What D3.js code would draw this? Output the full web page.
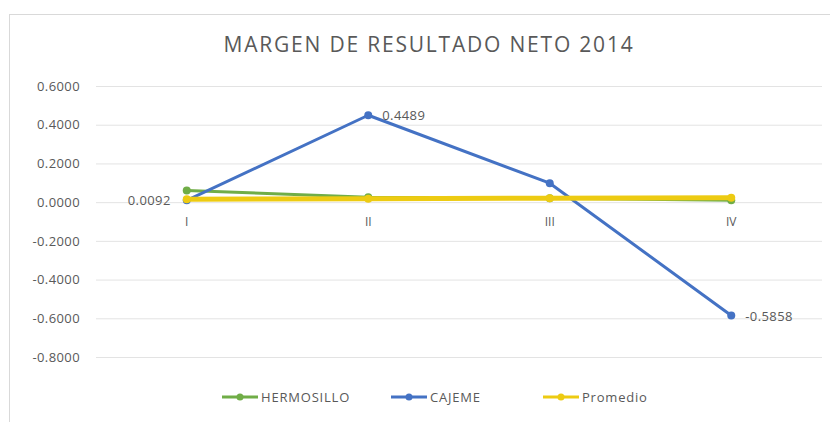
<!DOCTYPE html>
<html>
<head>
<meta charset="utf-8">
<script src="https://cdn.jsdelivr.net/npm/d3@7"></script>
<style>
  body { margin: 0; background: #fff; }
  text { font-family: "Open Sans", "Noto Sans", sans-serif; fill: #595959; }
</style>
</head>
<body>
<svg id="chart"></svg>
<script>
const WIDTH = 830;
const HEIGHT = 422;

// Datos.
const TRIMESTRES = ["I", "II", "III", "IV"];
const HERMOSILLO = [0.0600, 0.0250, 0.0200, 0.0100];
const CAJEME = [0.0092, 0.4489, 0.0980, -0.5858];
const PROMEDIO = [0.0150, 0.0180, 0.0200, 0.0230];
const Y_TICKS = [0.6, 0.4, 0.2, 0, -0.2, -0.4, -0.6, -0.8];
const ETIQUETAS = [
  { serie: "CAJEME", idx: 0, texto: "0.0092", lado: "left" },
  { serie: "CAJEME", idx: 1, texto: "0.4489", lado: "right" },
  { serie: "CAJEME", idx: 3, texto: "-0.5858", lado: "right" }
];

const SERIES = [
  { nombre: "HERMOSILLO", valores: HERMOSILLO, color: "#70AD47", ancho: 3 },
  { nombre: "CAJEME", valores: CAJEME, color: "#4472C4", ancho: 3 },
  { nombre: "Promedio", valores: PROMEDIO, color: "#EDCB12", ancho: 5 }
];

const MARGIN = { top: 86, left: 96, right: 8, bottom: 65 };

const svg = d3.select("svg#chart")
  .attr("width", WIDTH)
  .attr("height", HEIGHT);

// Borde del gráfico.
svg.append("rect")
  .attr("x", 9.5).attr("y", 14.5)
  .attr("width", WIDTH).attr("height", HEIGHT)
  .attr("fill", "none")
  .attr("stroke", "#d9d9d9");

svg.append("text")
  .attr("x", 429).attr("y", 52)
  .attr("text-anchor", "middle")
  .style("font-size", "21px")
  .style("letter-spacing", "1.8px")
  .text("MARGEN DE RESULTADO NETO 2014");

const escalaX = d3.scaleBand()
  .domain(TRIMESTRES)
  .range([MARGIN.left, WIDTH - MARGIN.right]);

const escalaY = d3.scaleLinear()
  .domain([-0.8, 0.6])
  .range([357, 86]);

const cx = (i) => escalaX(TRIMESTRES[i]) + escalaX.bandwidth() / 2;

const formato = (d) => d3.format(".4f")(d).replace("\u2212", "-");

// Grid.
svg.append("g")
  .attr("transform", `translate(${MARGIN.left},0)`)
  .call(d3.axisLeft(escalaY)
    .tickValues(Y_TICKS)
    .tickSize(-(WIDTH - MARGIN.left - MARGIN.right))
    .tickPadding(16)
    .tickFormat(formato))
  .call(g => g.select(".domain").remove())
  .call(g => g.selectAll(".tick line").attr("stroke", "#e3e3e3"))
  .call(g => g.selectAll(".tick text")
    .style("font-size", "13px")
    .style("letter-spacing", "0.4px")
    .attr("fill", "#595959"));

// Eje categorias en y=0.
svg.append("g")
  .attr("transform", `translate(0,${escalaY(0)})`)
  .call(d3.axisBottom(escalaX).tickSize(0).tickPadding(15))
  .call(g => g.select(".domain").remove())
  .call(g => g.selectAll(".tick text")
    .style("font-size", "12px")
    .attr("fill", "#595959"));

const linea = d3.line()
  .x((d, i) => cx(i))
  .y(d => escalaY(d));

SERIES.forEach(s => {
  const g = svg.append("g");
  g.append("path")
    .datum(s.valores)
    .attr("d", linea)
    .attr("fill", "none")
    .attr("stroke", s.color)
    .attr("stroke-width", s.ancho)
    .attr("stroke-linejoin", "round");
  g.selectAll("circle")
    .data(s.valores)
    .join("circle")
    .attr("cx", (d, i) => cx(i))
    .attr("cy", d => escalaY(d))
    .attr("r", 4)
    .attr("fill", s.color);
});

// Etiquetas de datos.
ETIQUETAS.forEach(e => {
  const s = SERIES.find(d => d.nombre === e.serie);
  const v = s.valores[e.idx];
  svg.append("text")
    .attr("x", cx(e.idx) + (e.lado === "left" ? -16 : 14))
    .attr("y", escalaY(v) + 5)
    .attr("text-anchor", e.lado === "left" ? "end" : "start")
    .style("font-size", "13px")
    .style("letter-spacing", "0.4px")
    .text(e.texto);
});

// Leyenda.
const leyenda = svg.append("g").attr("transform", "translate(0,397)");
const posLeyenda = [222, 391, 543];
SERIES.forEach((s, i) => {
  const x0 = posLeyenda[i];
  leyenda.append("line")
    .attr("x1", x0).attr("x2", x0 + 36)
    .attr("stroke", s.color).attr("stroke-width", 3);
  leyenda.append("circle")
    .attr("cx", x0 + 18).attr("r", 3.5)
    .attr("fill", s.color);
  leyenda.append("text")
    .attr("x", x0 + 39).attr("y", 5)
    .style("font-size", "13px")
    .style("letter-spacing", "0.8px")
    .text(s.nombre);
});
</script>
</body>
</html>
